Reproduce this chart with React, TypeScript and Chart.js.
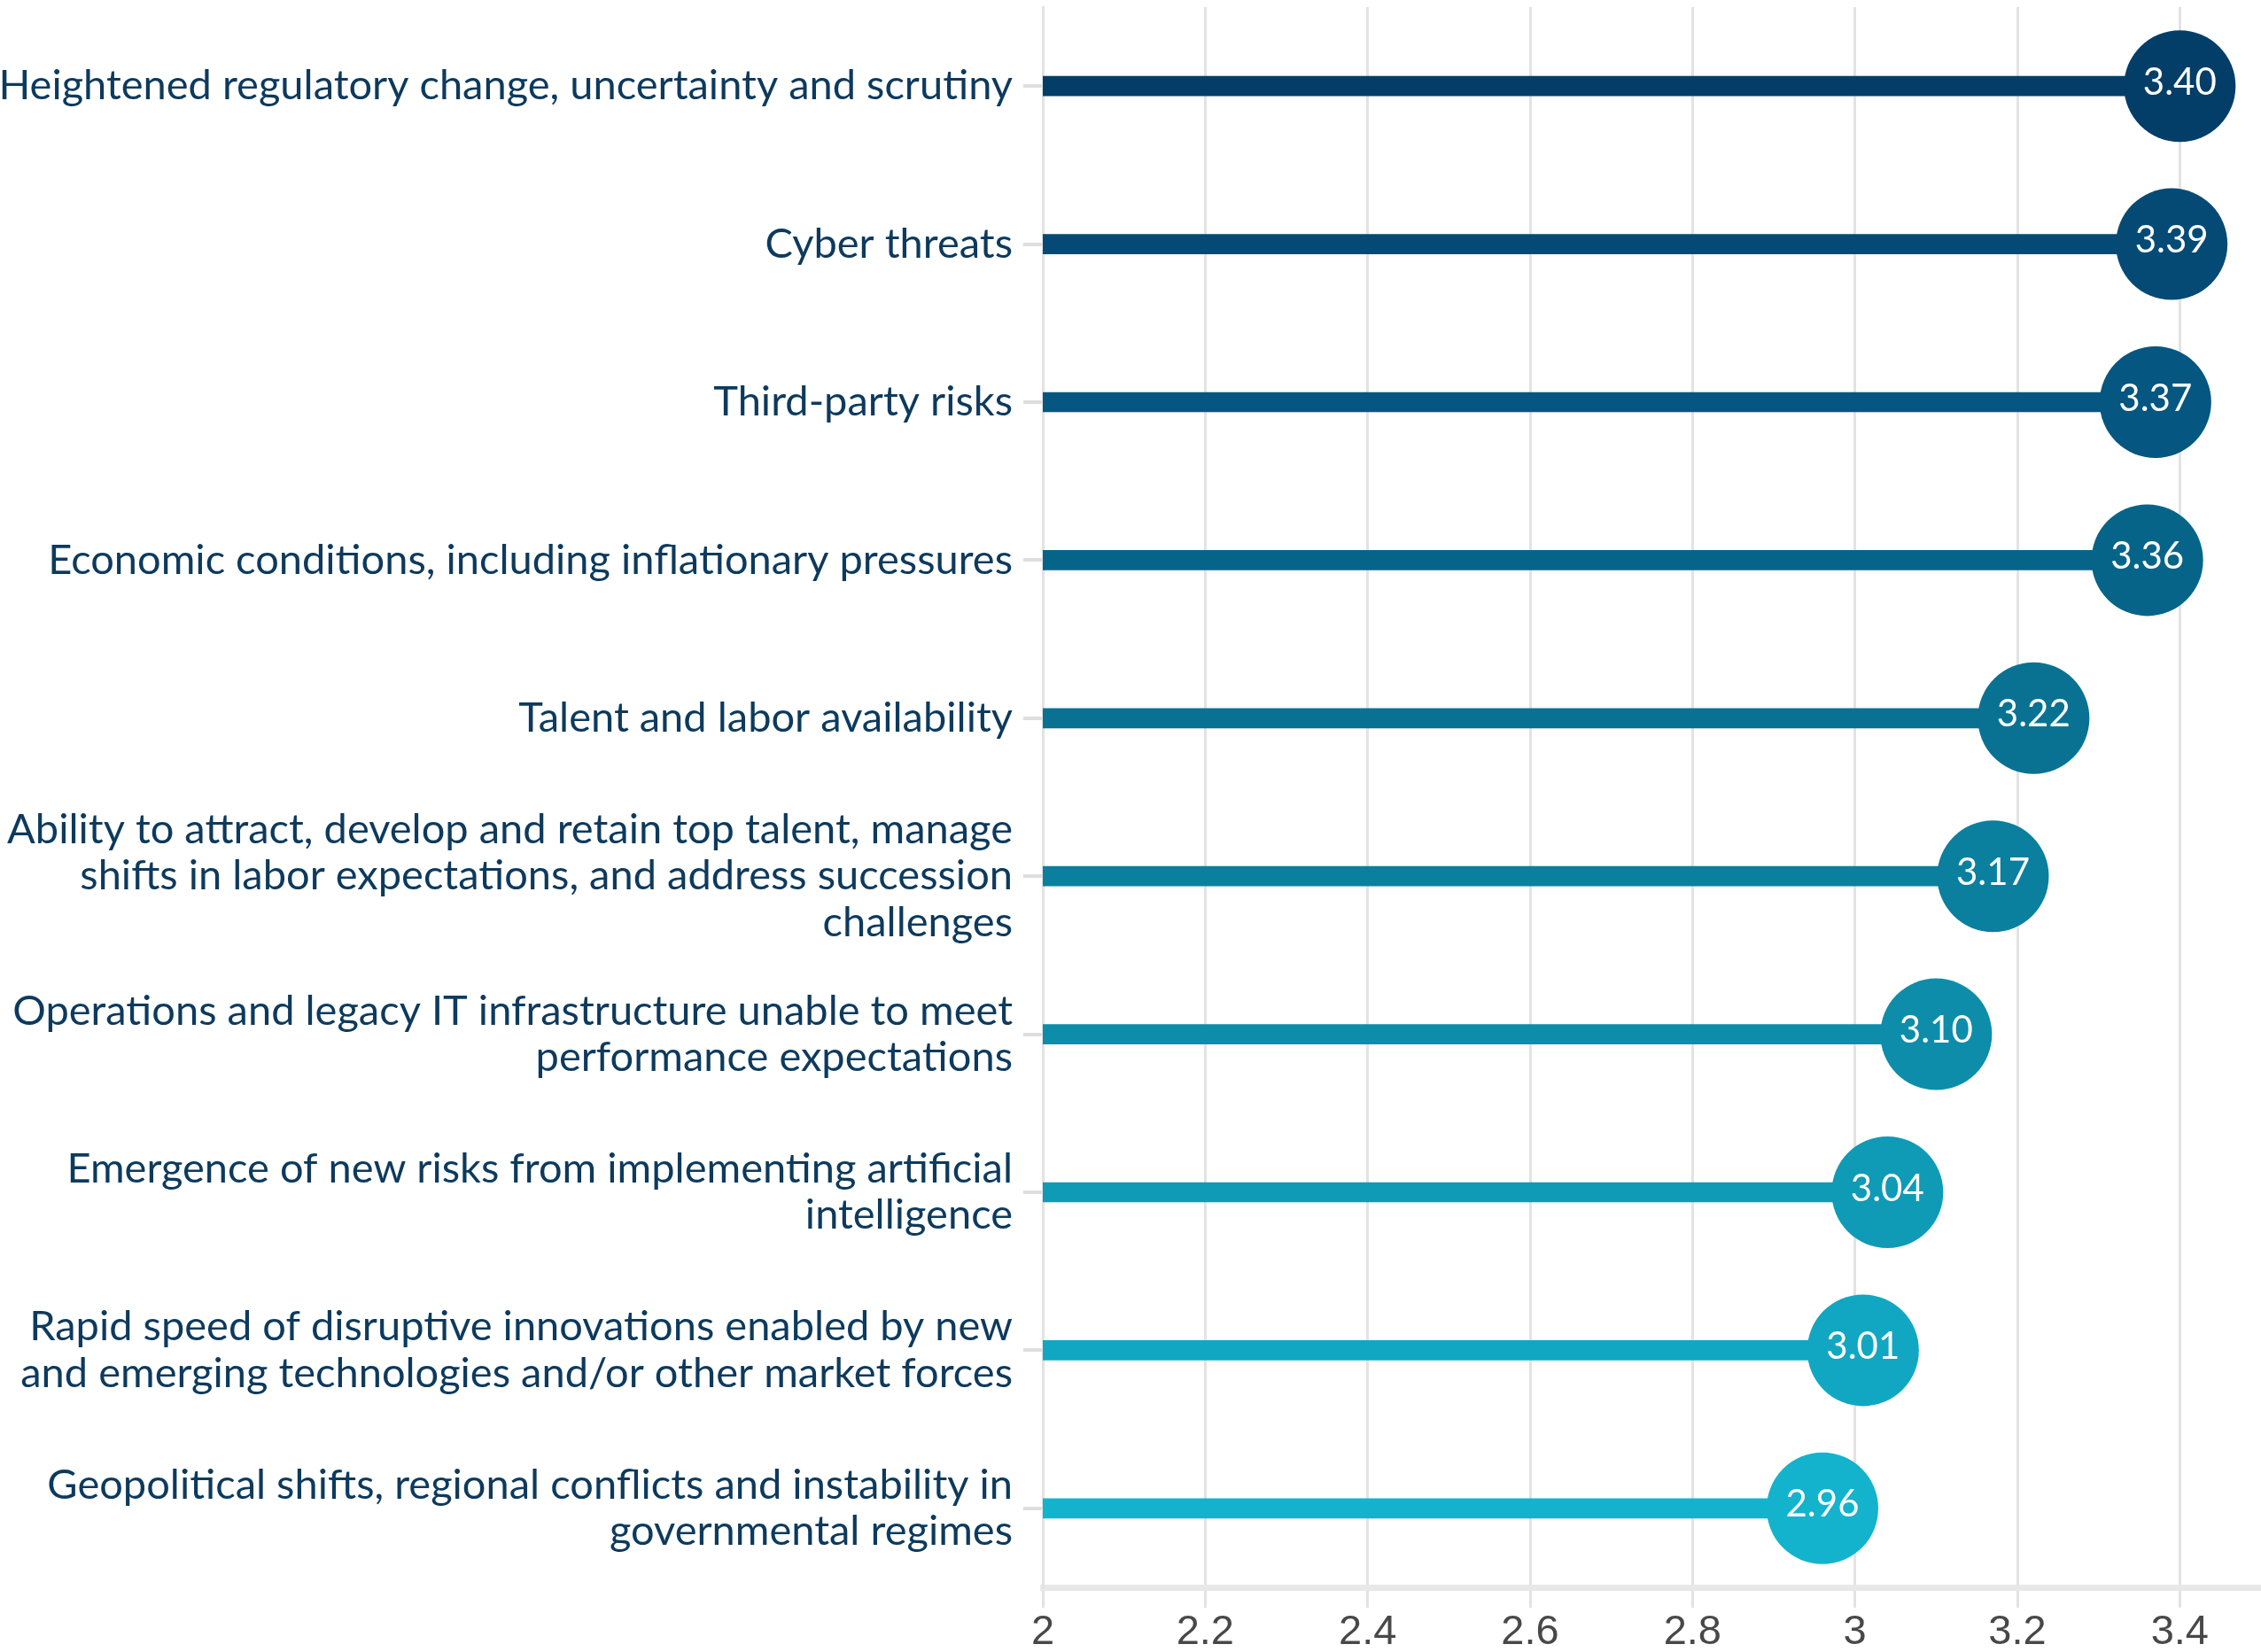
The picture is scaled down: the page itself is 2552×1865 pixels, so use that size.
import React, { useEffect, useRef } from "react";
import { Chart, registerables } from "chart.js";

Chart.register(...registerables);

const categories: string[][] = [
  ["Heightened regulatory change, uncertainty and scrutiny"],
  ["Cyber threats"],
  ["Third-party risks"],
  ["Economic conditions, including inflationary pressures"],
  ["Talent and labor availability"],
  ["Ability to attract, develop and retain top talent, manage", "shifts in labor expectations, and address succession", "challenges"],
  ["Operations and legacy IT infrastructure unable to meet", "performance expectations"],
  ["Emergence of new risks from implementing artificial", "intelligence"],
  ["Rapid speed of disruptive innovations enabled by new", "and emerging technologies and/or other market forces"],
  ["Geopolitical shifts, regional conflicts and instability in", "governmental regimes"],
];

const scores: number[] = [3.4, 3.39, 3.37, 3.36, 3.22, 3.17, 3.1, 3.04, 3.01, 2.96];

const xTicks: number[] = [2, 2.2, 2.4, 2.6, 2.8, 3, 3.2, 3.4];

const rowColors: string[] = [
  "#033e68",
  "#044a75",
  "#055680",
  "#076489",
  "#097293",
  "#0b7f9e",
  "#0d8daa",
  "#0f9ab6",
  "#11a7c2",
  "#14b3cd",
];

const CANVAS_W = 2552;
const CANVAS_H = 1865;

const valueLabelPlugin = {
  id: "valueLabels",
  afterDatasetsDraw(chart: any) {
    const meta = chart.getDatasetMeta(1);
    const ctx = chart.ctx;
    ctx.save();
    ctx.fillStyle = "#ffffff";
    ctx.font = "42px Lato";
    ctx.textAlign = "center";
    ctx.textBaseline = "middle";
    meta.data.forEach((el: any, i: number) => {
      ctx.fillText(scores[i].toFixed(2), el.x, el.y - 4);
    });
    ctx.restore();
  },
};

export default function App() {
  const ref = useRef<HTMLCanvasElement | null>(null);

  useEffect(() => {
    if (!ref.current) return;
    const chart = new Chart(ref.current, {
      type: "bar",
      data: {
        labels: categories as any,
        datasets: [
          {
            type: "bar",
            data: scores,
            backgroundColor: rowColors,
            barThickness: 22,
            order: 2,
          } as any,
          {
            type: "line",
            data: scores,
            showLine: false,
            pointRadius: 63,
            pointHoverRadius: 63,
            pointBorderWidth: 0,
            pointBackgroundColor: rowColors,
            pointBorderColor: rowColors,
            order: 1,
            clip: false,
          } as any,
        ],
      },
      plugins: [valueLabelPlugin],
      options: {
        indexAxis: "y",
        responsive: false,
        animation: false,
        layout: { autoPadding: false, padding: { top: 8, right: 0, left: 0, bottom: 0 } },
        plugins: {
          legend: { display: false },
          tooltip: { enabled: false },
        },
        scales: {
          x: {
            type: "linear",
            min: 2,
            max: 3.5,
            afterBuildTicks: (scale: any) => {
              scale.ticks = xTicks.map((v) => ({ value: v }));
            },
            afterFit: (scale: any) => {
              scale.height = 73;
              scale.paddingLeft = 0;
              scale.paddingRight = 0;
            },
            grid: {
              color: "#e3e3e3",
              lineWidth: 3,
              tickLength: 23,
              drawTicks: true,
            },
            border: { display: true, color: "#e8e8e8", width: 7 },
            ticks: {
              padding: 0,
              color: "#484848",
              font: { family: "'Liberation Sans', Arial, sans-serif", size: 47 },
              callback: (v: any) => String(Number(v)),
              maxRotation: 0,
              autoSkip: false,
            },
          },
          y: {
            type: "category",
            afterFit: (scale: any) => {
              scale.width = 1177;
              scale.paddingTop = 0;
              scale.paddingBottom = 0;
            },
            grid: {
              offset: false,
              drawOnChartArea: false,
              drawTicks: true,
              tickLength: 22,
              color: "#dedede",
              lineWidth: 4,
            },
            border: { display: true, color: "#e3e3e3", width: 3 },
            ticks: {
              padding: 12,
              color: "#0d3a5d",
              font: { family: "Lato", size: 47, lineHeight: 1.11 },
              autoSkip: false,
            },
          },
        },
      } as any,
    });
    return () => chart.destroy();
  }, []);

  return (
    <div style={{ position: "fixed", left: 0, top: 0, width: CANVAS_W, height: CANVAS_H, background: "#ffffff" }}>
      <canvas ref={ref} width={CANVAS_W} height={CANVAS_H} style={{ display: "block" }} />
    </div>
  );
}
